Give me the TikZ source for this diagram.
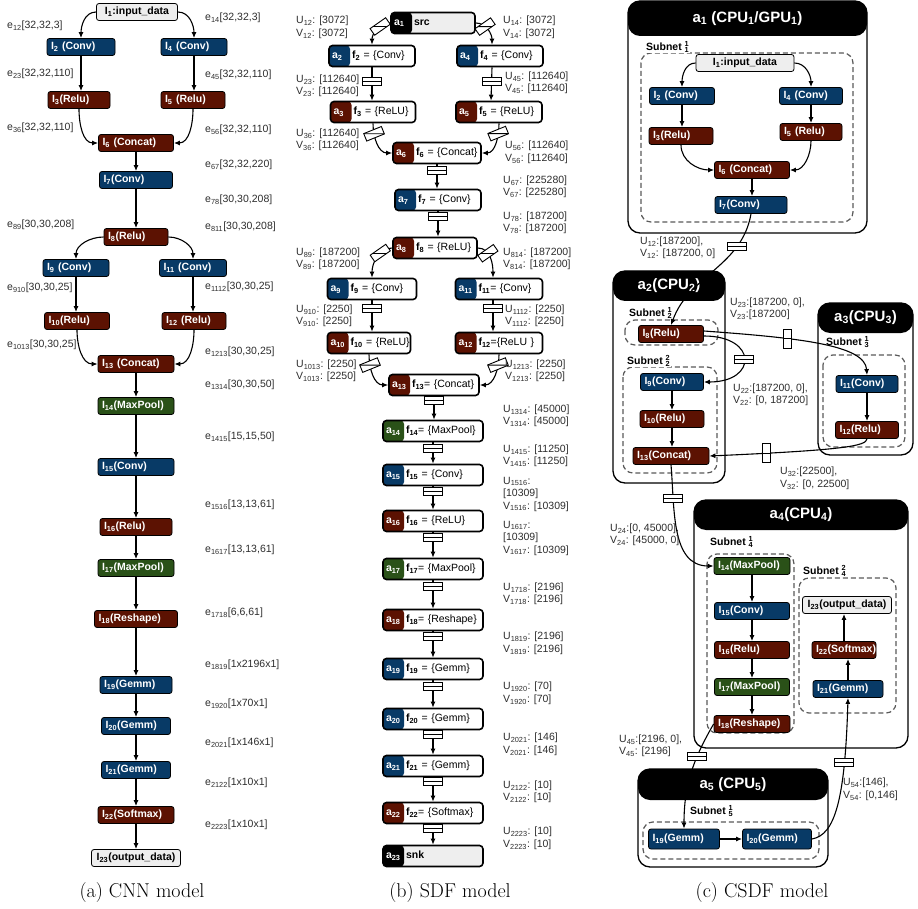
\documentclass[tikz,border=0pt]{standalone}
\usepackage{fontspec}
\setsansfont{Liberation Sans}
\usetikzlibrary{arrows.meta}

\definecolor{convblue}{RGB}{8,58,102}
\definecolor{relured}{RGB}{92,18,2}
\definecolor{poolgreen}{RGB}{42,81,24}
\definecolor{iogray}{RGB}{238,238,238}
\definecolor{labgray}{RGB}{45,45,45}
\definecolor{subgray}{RGB}{90,90,90}

% actor part of an SDF node, and the stacked subnet index
\newcommand{\apart}[2][white]{\makebox[20pt][l]{\textcolor{#1}{\bfseries a\textsubscript{#2}}}}
\newcommand{\subfr}[2]{\rlap{\textsuperscript{#1}}\textsubscript{#2}}

\tikzset{
  lay/.style={draw=black, line width=0.8pt, rounded corners=2.5pt, text=white,
    font=\sffamily\bfseries\fontsize{10.5}{12}\selectfont,
    minimum height=17pt, inner xsep=4pt, inner ysep=0pt, align=left, text width=#1},
  lay/.default=56pt,
  conv/.style={lay={#1}, fill=convblue},
  relu/.style={lay={#1}, fill=relured},
  pool/.style={lay={#1}, fill=poolgreen},
  iodata/.style={lay={#1}, fill=iogray, text=black, align=center},
  arr/.style={-{Latex[length=6pt,width=5pt]}, line width=1.1pt},
  elab/.style={anchor=west, inner sep=0pt, text=labgray,
    font=\sffamily\fontsize{10.5}{12}\selectfont},
  uvlab/.style={anchor=west, inner sep=0pt, align=left, text=labgray,
    font=\sffamily\fontsize{10.5}{12.5}\selectfont},
  sdf/.style={draw=black, line width=1.6pt, rounded corners=3.5pt, fill=white,
    minimum height=21pt, inner xsep=3pt, inner ysep=0pt, align=left,
    font=\sffamily\fontsize{10.5}{12}\selectfont,
    path picture={\fill[#1] (path picture bounding box.south west) rectangle ([xshift=21pt]path picture bounding box.north west);}},
  buf/.style={draw=black, fill=white, line width=0.9pt, minimum width=19pt,
    minimum height=8pt, inner sep=0pt,
    path picture={\draw[-, line width=0.9pt] (path picture bounding box.west) -- (path picture bounding box.east);}},
  cpubox/.style={draw=black, line width=1.3pt, fill=white, rounded corners=12pt, inner sep=0pt,
    path picture={\fill[black] (path picture bounding box.north west) rectangle ([yshift=-#1]path picture bounding box.north east);}},
  cputitle/.style={text=white, inner sep=0pt, font=\sffamily\bfseries\fontsize{15}{18}\selectfont},
  subnet/.style={draw=subgray, line width=1.2pt, dash pattern=on 5pt off 3pt, rounded corners=10pt},
  sublab/.style={anchor=west, fill=white, inner sep=1pt, font=\sffamily\bfseries\fontsize{10.5}{12}\selectfont},
  capt/.style={font=\rmfamily\fontsize{20}{24}\selectfont}
}

\begin{document}
\begin{tikzpicture}[x=1pt, y=1pt]
\useasboundingbox (0,0) rectangle (918,-909);

% ---------------- (a) CNN model ----------------
\node[iodata=73pt] (i1) at (137,-12) {I\textsubscript{1}:input\_data};
\node[conv=60pt] (i2) at (81,-47) {I\textsubscript{2}~(Conv)};
\node[conv=58pt] (i4) at (194,-47) {I\textsubscript{4}~(Conv)};
\node[relu=54pt] (i3) at (79,-100) {I\textsubscript{3}(Relu)};
\node[relu=56pt] (i5) at (193,-100) {I\textsubscript{5}~(Relu)};
\node[relu=67pt] (i6) at (136,-143) {I\textsubscript{6}~(Concat)};
\node[conv=65pt] (i7) at (136,-180) {I\textsubscript{7}(Conv)};
\node[relu=56pt] (i8) at (136,-237) {I\textsubscript{8}(Relu)};
\node[conv=58pt] (i9) at (76,-268) {I\textsubscript{9}~(Conv)};
\node[conv=59pt] (i11) at (193,-268) {I\textsubscript{11}~(Conv)};
\node[relu=57pt] (i10) at (77,-321) {I\textsubscript{10}(Relu)};
\node[relu=56pt] (i12) at (194,-321) {I\textsubscript{12}~(Relu)};
\node[relu=68pt] (i13) at (136,-364) {I\textsubscript{13}~(Concat)};
\node[pool=68pt] (i14) at (136,-406) {I\textsubscript{14}(MaxPool)};
\node[conv=68pt] (i15) at (136,-467) {I\textsubscript{15}(Conv)};
\node[relu=64pt] (i16) at (136,-527) {I\textsubscript{16}(Relu)};
\node[pool=68pt] (i17) at (136,-568) {I\textsubscript{17}(MaxPool)};
\node[relu=75pt] (i18) at (136,-619) {I\textsubscript{18}(Reshape)};
\node[conv=64pt] (i19) at (136,-685) {I\textsubscript{19}(Gemm)};
\node[conv=61pt] (i20) at (136,-726) {I\textsubscript{20}(Gemm)};
\node[conv=61pt] (i21) at (136,-770) {I\textsubscript{21}(Gemm)};
\node[relu=68pt] (i22) at (136,-815) {I\textsubscript{22}(Softmax)};
\node[iodata=81pt] (i23) at (136,-858) {I\textsubscript{23}(output\_data)};

\draw[arr] (i1.west) to[out=180,in=90] (i2.north);
\draw[arr] (i1.east) to[out=0,in=90] (i4.north);
\draw[arr] (i2.south) -- (i2.south |- i3.north);
\draw[arr] (i4.south) -- (i4.south |- i5.north);
\draw[arr] (i3.south) to[out=-90,in=180] (i6.west);
\draw[arr] (i5.south) to[out=-90,in=0] (i6.east);
\draw[arr] (i6) -- (i7);
\draw[arr] (i7) -- (i8);
\draw[arr] (i8.west) to[out=180,in=90] (i9.north);
\draw[arr] (i8.east) to[out=0,in=90] (i11.north);
\draw[arr] (i9.south) -- (i9.south |- i10.north);
\draw[arr] (i11.south) -- (i11.south |- i12.north);
\draw[arr] (i10.south) to[out=-90,in=180] (i13.west);
\draw[arr] (i12.south) to[out=-90,in=0] (i13.east);
\draw[arr] (i13) -- (i14);
\draw[arr] (i14) -- (i15);
\draw[arr] (i15) -- (i16);
\draw[arr] (i16) -- (i17);
\draw[arr] (i17) -- (i18);
\draw[arr] (i18) -- (i19);
\draw[arr] (i19) -- (i20);
\draw[arr] (i20) -- (i21);
\draw[arr] (i21) -- (i22);
\draw[arr] (i22) -- (i23);

% edge sizes
\node[elab] (e12) at (7,-26) {e\textsubscript{12}[32,32,3]};
\node[elab] (e14) at (205,-18) {e\textsubscript{14}[32,32,3]};
\node[elab] (e23) at (7,-74) {e\textsubscript{23}[32,32,110]};
\node[elab] (e45) at (205,-75) {e\textsubscript{45}[32,32,110]};
\node[elab] (e36) at (7,-128) {e\textsubscript{36}[32,32,110]};
\node[elab] (e56) at (205,-130) {e\textsubscript{56}[32,32,110]};
\node[elab] (e67) at (205,-165) {e\textsubscript{67}[32,32,220]};
\node[elab] (e78) at (205,-200) {e\textsubscript{78}[30,30,208]};
\node[elab] (e89) at (7,-225) {e\textsubscript{89}[30,30,208]};
\node[elab] (e811) at (205,-227) {e\textsubscript{811}[30,30,208]};
\node[elab] (e910) at (7,-288) {e\textsubscript{910}[30,30,25]};
\node[elab] (e1112) at (205,-287) {e\textsubscript{1112}[30,30,25]};
\node[elab] (e1013) at (7,-345) {e\textsubscript{1013}[30,30,25]};
\node[elab] (e1213) at (205,-352) {e\textsubscript{1213}[30,30,25]};
\node[elab] (e1314) at (205,-385) {e\textsubscript{1314}[30,30,50]};
\node[elab] (e1415) at (205,-437) {e\textsubscript{1415}[15,15,50]};
\node[elab] (e1516) at (205,-505) {e\textsubscript{1516}[13,13,61]};
\node[elab] (e1617) at (205,-550) {e\textsubscript{1617}[13,13,61]};
\node[elab] (e1718) at (205,-613) {e\textsubscript{1718}[6,6,61]};
\node[elab] (e1819) at (205,-665) {e\textsubscript{1819}[1x2196x1]};
\node[elab] (e1920) at (205,-704) {e\textsubscript{1920}[1x70x1]};
\node[elab] (e2021) at (205,-743) {e\textsubscript{2021}[1x146x1]};
\node[elab] (e2122) at (205,-783) {e\textsubscript{2122}[1x10x1]};
\node[elab] (e2223) at (205,-825) {e\textsubscript{2223}[1x10x1]};

\node[capt] (capa) at (142,-893) {(a) CNN model};

% ---------------- (b) SDF model ----------------
\node[sdf=black, fill=iogray, text width=78pt] (a1) at (433,-23) {\apart{1}\textbf{src}};
\node[sdf=convblue, text width=80pt] (a2) at (372,-56) {\apart{2}\textbf{f\textsubscript{2}}~=~\{Conv\}};
\node[sdf=convblue, text width=80pt] (a4) at (500,-56) {\apart{4}\textbf{f\textsubscript{4}}~=~\{Conv\}};
\node[sdf=relured, text width=79pt] (a3) at (373,-112) {\apart{3}\textbf{f\textsubscript{3}}~=~\{ReLU\}};
\node[sdf=relured, text width=80pt] (a5) at (499,-112) {\apart{5}\textbf{f\textsubscript{5}}~=~\{ReLU\}};
\node[sdf=relured, text width=82pt] (a6) at (437,-153) {\apart{6}\textbf{f\textsubscript{6}}~=~\{Concat\}};
\node[sdf=convblue, text width=80pt] (a7) at (438,-200) {\apart{7}\textbf{f\textsubscript{7}}~=~\{Conv\}};
\node[sdf=relured, text width=78pt] (a8) at (435,-248) {\apart{8}\textbf{f\textsubscript{8}}~=~\{ReLU\}};
\node[sdf=convblue, text width=83pt] (a9) at (372,-289) {\apart{9}\textbf{f\textsubscript{9}}~=~\{Conv\}};
\node[sdf=convblue, text width=81pt] (a11) at (499,-289) {\apart{11}\textbf{f\textsubscript{11}}=~\{Conv\}};
\node[sdf=relured, text width=77pt] (a10) at (369,-343) {\apart{10}\textbf{f\textsubscript{10}}~=~\{ReLU\}};
\node[sdf=relured, text width=81pt] (a12) at (499,-343) {\apart{12}\textbf{f\textsubscript{12}}=\{ReLU~\}};
\node[sdf=relured, text width=84pt] (a13) at (434,-385) {\apart{13}\textbf{f\textsubscript{13}}=~\{Concat\}};
\node[sdf=poolgreen, text width=94pt] (a14) at (433,-431) {\apart{14}\textbf{f\textsubscript{14}}=~\{MaxPool\}};
\node[sdf=convblue, text width=94pt] (a15) at (433,-475) {\apart{15}\textbf{f\textsubscript{15}}~=~\{Conv\}};
\node[sdf=relured, text width=94pt] (a16) at (433,-521) {\apart{16}\textbf{f\textsubscript{16}}~=~\{ReLU\}};
\node[sdf=poolgreen, text width=94pt] (a17) at (433,-569) {\apart{17}\textbf{f\textsubscript{17}}=~\{MaxPool\}};
\node[sdf=relured, text width=94pt] (a18) at (433,-620) {\apart{18}\textbf{f\textsubscript{18}}=~\{Reshape\}};
\node[sdf=convblue, text width=94pt] (a19) at (433,-669) {\apart{19}\textbf{f\textsubscript{19}}~=~\{Gemm\}};
\node[sdf=convblue, text width=94pt] (a20) at (433,-719) {\apart{20}\textbf{f\textsubscript{20}}~=~\{Gemm\}};
\node[sdf=convblue, text width=94pt] (a21) at (433,-766) {\apart{21}\textbf{f\textsubscript{21}}~=~\{Gemm\}};
\node[sdf=relured, text width=94pt] (a22) at (433,-813) {\apart{22}\textbf{f\textsubscript{22}}=~\{Softmax\}};
\node[sdf=black, fill=iogray, text width=94pt] (a23) at (433,-856) {\apart{23}\textbf{snk}};

\draw[arr] (a1.west) to[out=180,in=90] node[buf, pos=0.35, rotate=35] (bs12) {} (a2.north);
\draw[arr] (a1.east) to[out=0,in=90] node[buf, pos=0.35, rotate=35] (bs14) {} ([xshift=-8pt]a4.north);
\draw[arr] (a2.south) -- node[buf, pos=0.41] (bs23) {} (a2.south |- a3.north);
\draw[arr] ([xshift=-8pt]a4.south) -- node[buf, pos=0.41] (bs45) {} ([xshift=-8pt]a5.north);
\draw[arr] (a3.south) to[out=-90,in=180] node[buf, pos=0.25, rotate=22] (bs36) {} (a6.west);
\draw[arr] (a5.south) to[out=-90,in=0] node[buf, pos=0.25, rotate=22] (bs56) {} (a6.east);
\draw[arr] (a6.south) -- node[buf, pos=0.26] (bs67) {} (a6.south |- a7.north);
\draw[arr] (a7.south) -- node[buf, pos=0.2] (bs78) {} (a7.south |- a8.north);
\draw[arr] (a8.west) to[out=180,in=90] node[buf, pos=0.35, rotate=35] (bs89) {} (a9.north);
\draw[arr] (a8.east) to[out=0,in=90] node[buf, pos=0.35, rotate=35] (bs814) {} ([xshift=-6pt]a11.north);
\draw[arr] (a9.south) -- node[buf, pos=0.27] (bs910) {} (a9.south |- a10.north);
\draw[arr] ([xshift=-6pt]a11.south) -- node[buf, pos=0.27] (bs1112) {} ([xshift=-6pt]a12.north);
\draw[arr] (a10.south) to[out=-90,in=180] node[buf, pos=0.25, rotate=22] (bs1013) {} (a13.west);
\draw[arr] (a12.south) to[out=-90,in=0] node[buf, pos=0.25, rotate=22] (bs1213) {} (a13.east);
\draw[arr] (a13.south) -- node[buf, pos=0.16] (bs1314) {} (a13.south |- a14.north);
\draw[arr] (a14) -- node[buf, pos=0.3] (bs1415) {} (a15);
\draw[arr] (a15) -- node[buf, pos=0.2] (bs1516) {} (a16);
\draw[arr] (a16) -- node[buf, pos=0.22] (bs1617) {} (a17);
\draw[arr] (a17) -- node[buf, pos=0.2] (bs1718) {} (a18);
\draw[arr] (a18) -- node[buf, pos=0.21] (bs1819) {} (a19);
\draw[arr] (a19) -- node[buf, pos=0.21] (bs1920) {} (a20);
\draw[arr] (a20) -- node[buf, pos=0.19] (bs2021) {} (a21);
\draw[arr] (a21) -- node[buf, pos=0.19] (bs2122) {} (a22);
\draw[arr] (a22) -- node[buf, pos=0.18] (bs2223) {} (a23);

% token rates
\node[uvlab] (uv12) at (296,-27.5) {U\textsubscript{12}: [3072]\\V\textsubscript{12}: [3072]};
\node[uvlab] (uv14) at (503,-27.5) {U\textsubscript{14}: [3072]\\V\textsubscript{14}: [3072]};
\node[uvlab] (uv23) at (296,-86) {U\textsubscript{23}: [112640]\\V\textsubscript{23}: [112640]};
\node[uvlab] (uv45) at (505,-83) {U\textsubscript{45}: [112640]\\V\textsubscript{45}: [112640]};
\node[uvlab] (uv36) at (296,-140) {U\textsubscript{36}: [112640]\\V\textsubscript{36}: [112640]};
\node[uvlab] (uv56) at (505,-152.5) {U\textsubscript{56}: [112640]\\V\textsubscript{56}: [112640]};
\node[uvlab] (uv67) at (503,-187) {U\textsubscript{67}: [225280]\\V\textsubscript{67}: [225280]};
\node[uvlab] (uv78) at (503,-223) {U\textsubscript{78}: [187200]\\V\textsubscript{78}: [187200]};
\node[uvlab] (uv89) at (296,-259) {U\textsubscript{89}: [187200]\\V\textsubscript{89}: [187200]};
\node[uvlab] (uv814) at (503,-259) {U\textsubscript{814}: [187200]\\V\textsubscript{814}: [187200]};
\node[uvlab] (uv910) at (296,-316) {U\textsubscript{910}: [2250]\\V\textsubscript{910}: [2250]};
\node[uvlab] (uv1112) at (505,-316) {U\textsubscript{1112}: [2250]\\V\textsubscript{1112}: [2250]};
\node[uvlab] (uv1013) at (296,-371) {U\textsubscript{1013}: [2250]\\V\textsubscript{1013}: [2250]};
\node[uvlab] (uv1213) at (505,-371) {U\textsubscript{1213}: [2250]\\V\textsubscript{1213}: [2250]};
\node[uvlab] (uv1314) at (503,-416) {U\textsubscript{1314}: [45000]\\V\textsubscript{1314}: [45000]};
\node[uvlab] (uv1415) at (503,-456) {U\textsubscript{1415}: [11250]\\V\textsubscript{1415}: [11250]};
\node[uvlab] (uv1516) at (503,-494) {U\textsubscript{1516}:\\[0pt][10309]\\V\textsubscript{1516}: [10309]};
\node[uvlab] (uv1617) at (503,-538) {U\textsubscript{1617}:\\[0pt][10309]\\V\textsubscript{1617}: [10309]};
\node[uvlab] (uv1718) at (503,-594) {U\textsubscript{1718}: [2196]\\V\textsubscript{1718}: [2196]};
\node[uvlab] (uv1819) at (503,-643.5) {U\textsubscript{1819}: [2196]\\V\textsubscript{1819}: [2196]};
\node[uvlab] (uv1920) at (503,-693.5) {U\textsubscript{1920}: [70]\\V\textsubscript{1920}: [70]};
\node[uvlab] (uv2021) at (503,-744.5) {U\textsubscript{2021}: [146]\\V\textsubscript{2021}: [146]};
\node[uvlab] (uv2122) at (503,-792) {U\textsubscript{2122}: [10]\\V\textsubscript{2122}: [10]};
\node[uvlab] (uv2223) at (503,-838.5) {U\textsubscript{2223}: [10]\\V\textsubscript{2223}: [10]};

\node[capt] (capb) at (450,-893) {(b) SDF model};

% ---------------- (c) CSDF model ----------------
\node[cpubox=35pt, minimum width=239pt, minimum height=232pt] (cpu1) at (747.5,-117) {};
\node[cpubox=30pt, minimum width=112pt, minimum height=212pt] (cpu2) at (669,-377) {};
\node[cpubox=30pt, minimum width=95pt, minimum height=152pt] (cpu3) at (865.5,-379) {};
\node[cpubox=30pt, minimum width=214pt, minimum height=248pt] (cpu4) at (801,-624) {};
\node[cpubox=31pt, minimum width=190pt, minimum height=98pt] (cpu5) at (733,-818) {};
\node[cputitle] (t1) at ([yshift=-18pt]cpu1.north) {a\textsubscript{1} (CPU\textsubscript{1}/GPU\textsubscript{1})};
\node[cputitle] (t2) at ([yshift=-15pt]cpu2.north) {a\textsubscript{2}(CPU\textsubscript{2})};
\node[cputitle] (t3) at ([yshift=-15pt]cpu3.north) {a\textsubscript{3}(CPU\textsubscript{3})};
\node[cputitle] (t4) at ([yshift=-15pt]cpu4.north) {a\textsubscript{4}(CPU\textsubscript{4})};
\node[cputitle] (t5) at ([yshift=-16pt]cpu5.north) {a\textsubscript{5} (CPU\textsubscript{5})};

% subnets
\draw[subnet] (641,-53) rectangle (853,-222);
\draw[subnet] (625,-320) rectangle (718,-345);
\draw[subnet] (623,-367) rectangle (717,-473);
\draw[subnet] (823,-355) rectangle (905,-447);
\draw[subnet] (707,-554) rectangle (794,-733);
\draw[subnet] (799,-578) rectangle (896,-713);
\draw[subnet] (643,-822) rectangle (819,-859);
\node[sublab] (sn11) at (645,-47) {Subnet \subfr{1}{1}};
\node[sublab] (sn12) at (628,-313) {Subnet \subfr{1}{2}};
\node[sublab] (sn22) at (626,-361) {Subnet \subfr{2}{2}};
\node[sublab] (sn13) at (825,-342) {Subnet \subfr{1}{3}};
\node[sublab] (sn14) at (709,-542) {Subnet \subfr{1}{4}};
\node[sublab] (sn24) at (802,-571) {Subnet \subfr{2}{4}};
\node[sublab] (sn15) at (689,-811) {Subnet \subfr{1}{5}};

% layers
\node[iodata=90pt] (n1) at (745,-63) {I\textsubscript{1}:input\_data};
\node[conv=57pt] (n2) at (682,-96) {I\textsubscript{2}~(Conv)};
\node[conv=55pt] (n4) at (811,-96) {I\textsubscript{4}~(Conv)};
\node[relu=56pt] (n3) at (681,-136) {I\textsubscript{3}(Relu)};
\node[relu=54pt] (n5) at (811,-132) {I\textsubscript{5}~(Relu)};
\node[relu=67pt] (n6) at (752,-170) {I\textsubscript{6}~(Concat)};
\node[conv=64pt] (n7) at (751,-205) {I\textsubscript{7}(Conv)};
\node[relu=57pt] (n8) at (671,-334) {I\textsubscript{8}(Relu)};
\node[conv=55pt] (n9) at (672,-382) {I\textsubscript{9}(Conv)};
\node[relu=56pt] (n10) at (672,-419) {I\textsubscript{10}(Relu)};
\node[relu=68pt] (n13) at (671,-456) {I\textsubscript{13}(Concat)};
\node[conv=54pt] (n11) at (867,-384) {I\textsubscript{11}(Conv)};
\node[relu=55pt] (n12) at (867,-430) {I\textsubscript{12}(Relu)};
\node[pool=68pt] (n14) at (752,-566) {I\textsubscript{14}(MaxPool)};
\node[conv=67pt] (n15) at (752,-611) {I\textsubscript{15}(Conv)};
\node[relu=67pt] (n16) at (752,-650) {I\textsubscript{16}(Relu)};
\node[pool=67pt] (n17) at (752,-687) {I\textsubscript{17}(MaxPool)};
\node[relu=68pt] (n18) at (752,-724) {I\textsubscript{18}(Reshape)};
\node[iodata=81pt] (n23) at (847,-605) {I\textsubscript{23}(output\_data)};
\node[relu=56pt] (n22) at (844,-650) {I\textsubscript{22}(Softmax)};
\node[conv=62pt] (n21) at (848,-689) {I\textsubscript{21}(Gemm)};
\node[conv=63pt, minimum height=20pt] (n19) at (684,-839) {I\textsubscript{19}(Gemm)};
\node[conv=61pt, minimum height=20pt] (n20) at (777,-839) {I\textsubscript{20}(Gemm)};

\draw[arr] (n1.west) to[out=180,in=90] (n2.north);
\draw[arr] (n1.east) to[out=0,in=90] (n4.north);
\draw[arr] (n2.south) -- (n2.south |- n3.north);
\draw[arr] (n4.south) -- (n4.south |- n5.north);
\draw[arr] (n3.south) to[out=-90,in=180] (n6.west);
\draw[arr] (n5.south) to[out=-90,in=0] (n6.east);
\draw[arr] (n6.south) -- (n6.south |- n7.north);
\draw[arr] (n7.south) to[out=-100,in=70] node[buf, pos=0.25] (b12) {} (n8.north);
\draw[arr] ([yshift=3pt]n8.east) .. controls (800,-338) and (865,-345) .. (n11.north) node[buf, pos=0.33, rotate=90] (b23) {};
\draw[arr] ([yshift=-2pt]n8.east) to[out=0,in=0,looseness=3] node[buf, pos=0.5] (b22) {} (n9.east);
\draw[arr] (n9.south) -- (n9.south |- n10.north);
\draw[arr] (n10.south) -- (n10.south |- n13.north);
\draw[arr] (n11) -- (n12);
\draw[arr] (n12.south) .. controls (866,-446) and (845,-450) .. (n13.east) node[buf, pos=0.84, rotate=90] (b32) {};
\draw[arr] (n13.south) to[out=-85,in=180] node[buf, pos=0.25] (b24) {} (n14.west);
\draw[arr] (n14) -- (n15);
\draw[arr] (n15) -- (n16);
\draw[arr] (n16) -- (n17);
\draw[arr] (n17) -- (n18);
\draw[arr] (n18.west) to[out=240,in=90] node[buf, pos=0.32] (b45) {} (n19.north);
\draw[arr] (n19) -- (n20);
\draw[arr] (n20.east) .. controls (835,-835) and (845,-800) .. (n21.south) node[buf, pos=0.75] (b54) {};
\draw[arr] (n21.north) -- (n21.north |- n22.south);
\draw[arr] (n22.north) -- (n22.north |- n23.south);

\node[uvlab] (u12) at (640,-248) {U\textsubscript{12}:[187200],\\V\textsubscript{12}: [187200, 0]};
\node[uvlab] (u23) at (730,-309) {U\textsubscript{23}:[187200, 0],\\V\textsubscript{23}:[187200]};
\node[uvlab] (u22) at (733,-395) {U\textsubscript{22}:[187200, 0],\\V\textsubscript{22}: [0, 187200]};
\node[uvlab] (u32) at (780,-478.5) {U\textsubscript{32}:[22500],\\V\textsubscript{32}: [0, 22500]};
\node[uvlab] (u24) at (610,-535) {U\textsubscript{24}:[0, 45000],\\V\textsubscript{24}: [45000, 0]};
\node[uvlab] (u45) at (619,-746) {U\textsubscript{45}:[2196, 0],\\V\textsubscript{45}: [2196]};
\node[uvlab] (u54) at (843,-789.5) {U\textsubscript{54}:[146],\\V\textsubscript{54}: [0,146]};

\node[capt] (capc) at (762,-893) {(c) CSDF model};
\end{tikzpicture}
\end{document}
